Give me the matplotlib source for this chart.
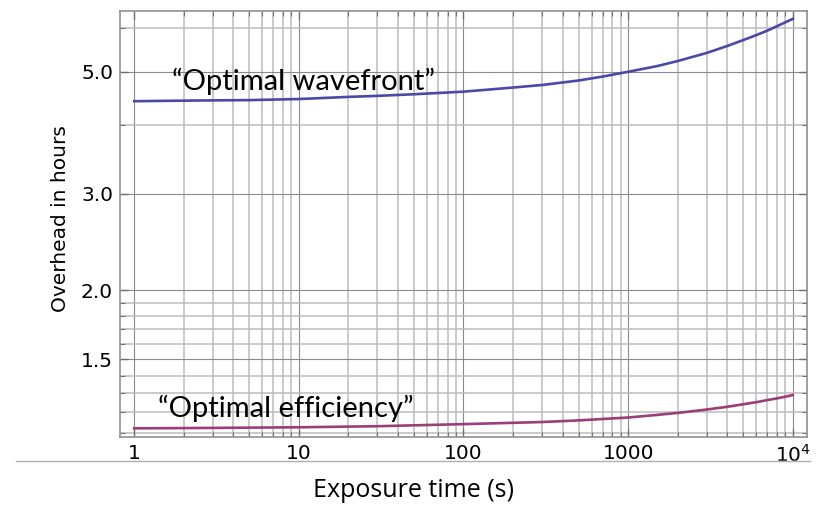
import numpy as np
import matplotlib.pyplot as plt
from matplotlib.ticker import FixedLocator, NullFormatter

# values (exposure time in s, overhead in hours)
t_wave = [1, 2, 3, 5, 10, 20, 30, 50, 100, 200, 300, 500, 700, 1000, 1500, 2000,
          3000, 4000, 5000, 6000, 7000, 8000, 9000, 10000]
h_wave = [4.42, 4.43, 4.435, 4.44, 4.46, 4.50, 4.52, 4.55, 4.60, 4.68, 4.73, 4.82, 4.90,
          5.00, 5.12, 5.23, 5.41, 5.57, 5.71, 5.83, 5.94, 6.05, 6.15, 6.24]

t_eff = [1, 3, 10, 30, 100, 300, 500, 1000, 1500, 2000, 3000, 4000, 5000, 6000,
         7000, 8000, 9000, 10000]
h_eff = [1.122, 1.124, 1.127, 1.132, 1.142, 1.152, 1.160, 1.174, 1.187, 1.197, 1.214,
         1.228, 1.241, 1.252, 1.263, 1.272, 1.281, 1.29]

x_ticks = [1, 10, 100, 1000, 10000]
x_labels = ["1", "10", "100", "1000", r"$10^4$"]
y_ticks = [1.5, 2.0, 3.0, 5.0]
y_grid = [1.1, 1.2, 1.3, 1.4, 1.5, 1.6, 1.7, 1.8, 1.9, 2.0, 3.0, 4.0, 5.0, 6.0]

plt.rcParams['font.family'] = ['DejaVu Sans']
plt.rcParams['mathtext.fontset'] = 'dejavusans'

fig = plt.figure(figsize=(8.22, 5.05), dpi=100)
ax = fig.add_axes([120/822, 1-437/505, 687/822, 426/505])
ax.set_xscale("log")
ax.set_yscale("log")
ax.set_xlim(0.82, 12200)
ax.set_ylim(1.082, 6.45)

# grid
xminor = [m * 10**d for d in range(0, 5) for m in range(1, 10) if m * 10**d <= 10000]
for xv in xminor:
    major = xv in x_ticks
    ax.axvline(xv, color="#8a8a8a" if major else "#bcbcbc", lw=0.8 if major else 1.1, zorder=0)
for yv in y_grid:
    major = yv in y_ticks
    ax.axhline(yv, color="#8a8a8a" if major else "#bcbcbc", lw=0.8 if major else 1.1, zorder=0)

ax.plot(t_wave, h_wave, color="#4a48a8", lw=1.9)
ax.plot(t_eff, h_eff, color="#9b3d78", lw=1.9)

ax.xaxis.set_major_locator(FixedLocator(x_ticks))
ax.xaxis.set_minor_locator(FixedLocator([v for v in xminor if v not in x_ticks]))
ax.set_xticklabels(x_labels)
ax.xaxis.set_minor_formatter(NullFormatter())
ax.yaxis.set_major_locator(FixedLocator(y_ticks))
ax.yaxis.set_minor_locator(FixedLocator([v for v in y_grid if v not in y_ticks]))
ax.set_yticklabels(["%.1f" % v for v in y_ticks])
ax.yaxis.set_minor_formatter(NullFormatter())

ax.tick_params(which="both", direction="in", top=True, right=True, color="#707070")
ax.tick_params(which="major", length=6, width=1, labelsize=14.5, pad=5)
ax.tick_params(which="minor", length=3.5, width=0.8)
for s in ax.spines.values():
    s.set_color("#909090")
    s.set_linewidth(1.2)

ax.text(1.70, 4.64, "\u201cOptimal wavefront\u201d", fontsize=21, family="Lato", ha="left", va="baseline")
ax.text(1.40, 1.177, "\u201cOptimal efficiency\u201d", fontsize=21, family="Lato", ha="left", va="baseline")

fig.text(60/822, 1-219/505, "Overhead in hours", rotation=90, ha="center", va="center", fontsize=14.5)

# slide cut below the tick labels
fig.patches.append(plt.Rectangle((0, 0), 1, 1-461/505, transform=fig.transFigure, color="white", zorder=5))
fig.lines.append(plt.Line2D([16/822, 810/822], [1-460.5/505]*2, transform=fig.transFigure, color="#b0b0b0", lw=1, zorder=6))
fig.text(413/822, 1-497/505, "Exposure time (s)", ha="center", va="baseline", fontsize=18, family="Open Sans", zorder=7)

fig.savefig("out.png", dpi=100)
